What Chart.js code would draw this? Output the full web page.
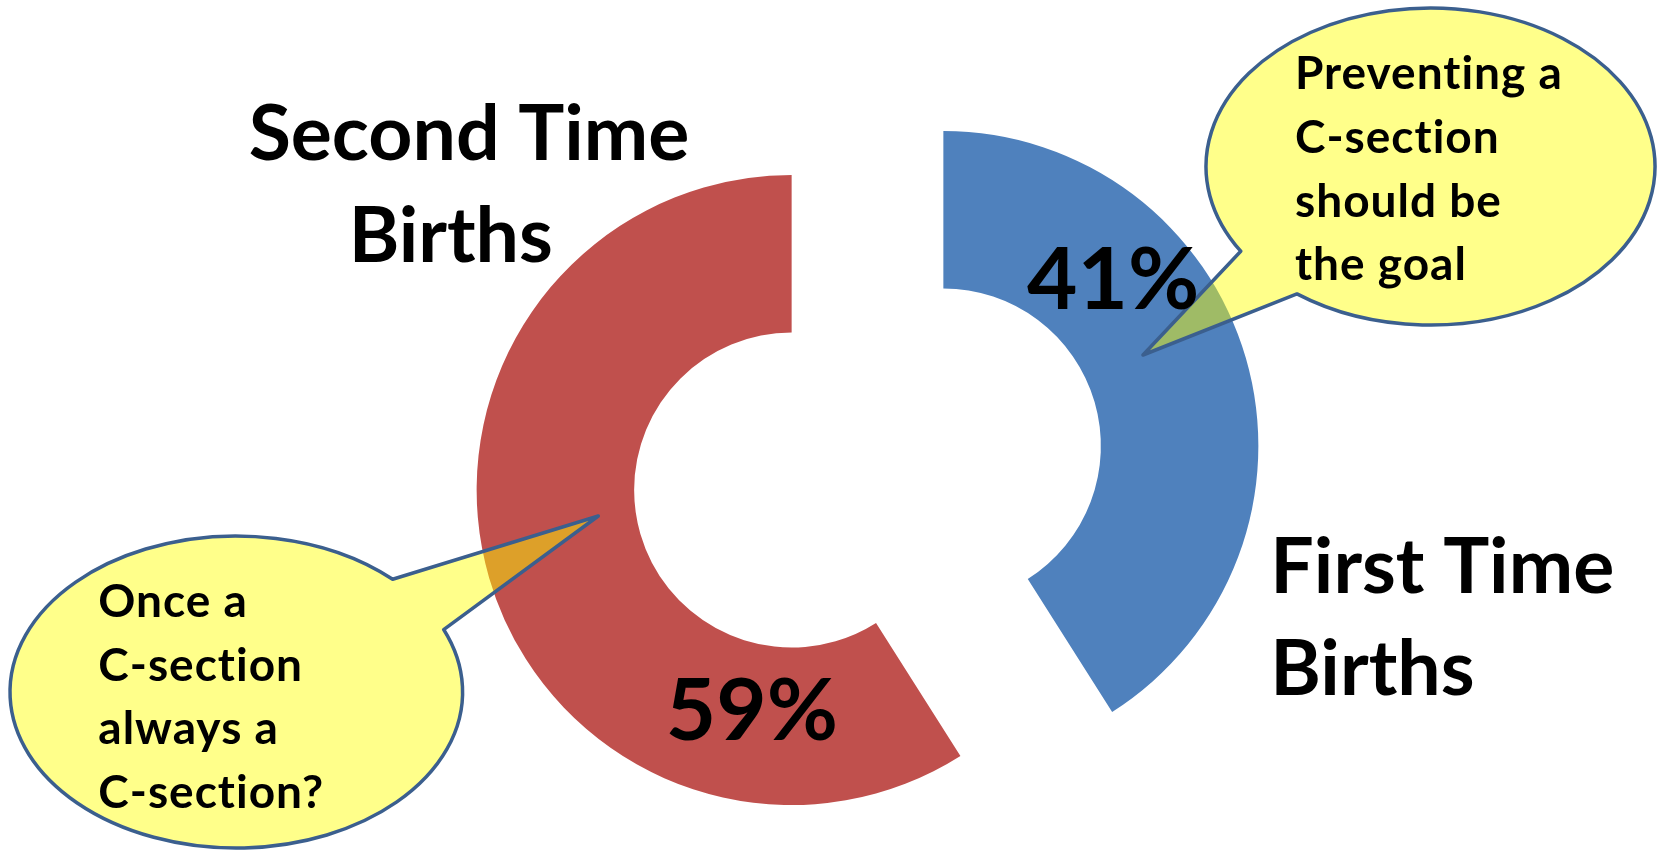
<!DOCTYPE html>
<html>
<head>
<meta charset="utf-8">
<title>First vs Second Time Births</title>
<script src="https://cdn.jsdelivr.net/npm/chart.js@4.4.1/dist/chart.umd.min.js"></script>
<style>
  html, body { margin: 0; padding: 0; background: #fff; overflow: hidden; }
  canvas { display: block; }
</style>
</head>
<body>
<canvas id="births-chart" width="1658" height="852"></canvas>
<script>
const categories = ['First Time Births', 'Second Time Births'];
const shares = [41, 59];
const sliceColors = ['#4F81BD', '#C0504D'];
const categoryLines = [['First Time', 'Births'], ['Second Time', 'Births']];
const calloutLines = [
  ['Preventing a', 'C-section', 'should be', 'the goal'],
  ['Once a', 'C-section', 'always a', 'C-section?']
];

const FONT = 'Lato, "Open Sans", sans-serif';

// pulls each slice out from the centre, like an exploded pie
const explodePlugin = {
  id: 'explode',
  beforeDatasetDraw(chart, args, opts) {
    const ctx = chart.ctx;
    args.meta.data.forEach(arc => {
      const mid = (arc.startAngle + arc.endAngle) / 2;
      ctx.save();
      ctx.translate(Math.cos(mid) * opts.distance, Math.sin(mid) * opts.distance);
      arc.draw(ctx);
      ctx.restore();
    });
    return false;
  }
};

function sliceCentre(arc, dist) {
  const mid = (arc.startAngle + arc.endAngle) / 2;
  return { x: arc.x + Math.cos(mid) * dist, y: arc.y + Math.sin(mid) * dist };
}

function drawCallout(ctx, cx, cy, c) {
  const rad = d => d * Math.PI / 180;
  ctx.save();
  ctx.beginPath();
  ctx.ellipse(cx + c.x, cy + c.y, c.rx, c.ry, 0, rad(c.from), rad(c.to), false);
  ctx.lineTo(cx + c.tipX, cy + c.tipY);
  ctx.closePath();
  ctx.fillStyle = 'rgba(255, 255, 0, 0.46)';
  ctx.fill();
  ctx.lineWidth = 3.5;
  ctx.lineJoin = 'round';
  ctx.strokeStyle = '#3B5F8E';
  ctx.stroke();
  ctx.fillStyle = '#000';
  ctx.font = 'bold 46px ' + FONT;
  ctx.letterSpacing = '1px';
  ctx.textAlign = 'left';
  ctx.textBaseline = 'alphabetic';
  c.lines.forEach((line, i) => {
    ctx.fillText(line, cx + c.textX, cy + c.textY + i * 63.8);
  });
  ctx.restore();
}

const labelsPlugin = {
  id: 'sliceLabels',
  afterDatasetsDraw(chart, args, opts) {
    const ctx = chart.ctx;
    const arcs = chart.getDatasetMeta(0).data;
    const dist = chart.options.plugins.explode.distance;
    const cx = arcs[0].x, cy = arcs[0].y;

    // speech bubbles
    drawCallout(ctx, cx, cy, {
      x: 563, y: -301.5, rx: 224.5, ry: 158.5, from: 147.7, to: 486.5,
      tipX: 275.5, tipY: -113, textX: 427.5, textY: -379, lines: calloutLines[0]
    });
    drawCallout(ctx, cx, cy, {
      x: -631.2, y: 224, rx: 226.3, ry: 156, from: -23.6, to: 313.7,
      tipX: -269.2, tipY: 48, textX: -769.2, textY: 148.7, lines: calloutLines[1]
    });

    ctx.save();
    ctx.fillStyle = '#000';
    ctx.textBaseline = 'alphabetic';

    // category names beside each slice
    ctx.font = 'bold 77px ' + FONT;
    ctx.textAlign = 'left';
    arcs.forEach((arc, i) => {
      const c = sliceCentre(arc, dist);
      const place = opts.names[i];
      categoryLines[i].forEach((line, j) => {
        ctx.fillText(line, c.x + place.dx[j], c.y + place.dy[j]);
      });
    });

    // percentages inside the ring
    ctx.font = 'bold 87px ' + FONT;
    ctx.textAlign = 'center';
    arcs.forEach((arc, i) => {
      const c = sliceCentre(arc, dist);
      const p = opts.values[i];
      const a = arc.startAngle + (arc.endAngle - arc.startAngle) * p.along;
      const r = arc.innerRadius + (arc.outerRadius - arc.innerRadius) * p.across;
      ctx.fillText(shares[i] + '%', c.x + Math.cos(a) * r, c.y + Math.sin(a) * r + 31);
    });
    ctx.restore();
  }
};

new Chart(document.getElementById('births-chart'), {
  type: 'doughnut',
  data: {
    labels: categories,
    datasets: [{
      data: shares,
      backgroundColor: sliceColors,
      borderWidth: 0
    }]
  },
  options: {
    responsive: false,
    animation: false,
    radius: 315,
    cutout: '50%',
    layout: { padding: { left: 77, top: 84, right: 0, bottom: 0 } },
    plugins: {
      legend: { display: false },
      tooltip: { enabled: false },
      explode: { distance: 79 },
      sliceLabels: {
        names: [
          { dx: [327, 327], dy: [147, 249] },
          { dx: [-543, -443], dy: [-330, -228] }
        ],
        values: [
          { along: 0.307, across: 0.516 },
          { along: 0.201, across: 0.41 }
        ]
      }
    }
  },
  plugins: [explodePlugin, labelsPlugin]
});
</script>
</body>
</html>
